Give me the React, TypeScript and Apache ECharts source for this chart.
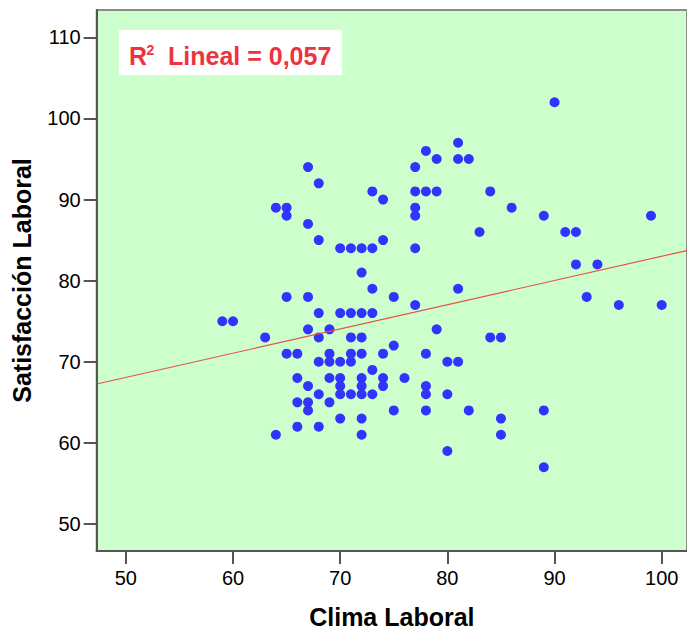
import React, { useEffect, useRef } from "react";
import * as echarts from "echarts";

// Clima Laboral (x) and Satisfacción Laboral (y), paired by index
const climaLaboral: number[] = [
  59, 60, 63,
  64, 64,
  65, 65, 65, 65,
  66, 66, 66, 66,
  67, 67, 67, 67, 67, 67, 67,
  68, 68, 68, 68, 68, 68, 68,
  69, 69, 69, 69, 69,
  70, 70, 70, 70, 70, 70, 70,
  71, 71, 71, 71, 71, 71,
  72, 72, 72, 72, 72, 72, 72, 72, 72, 72,
  73, 73, 73, 73, 73, 73,
  74, 74, 74, 74, 74,
  75, 75, 75,
  76,
  77, 77, 77, 77, 77, 77,
  78, 78, 78, 78, 78, 78,
  79, 79, 79,
  80, 80, 80,
  81, 81, 81, 81,
  82, 82,
  83,
  84, 84,
  85, 85, 85,
  86,
  89, 89, 89,
  90, 91,
  92, 92,
  93, 94, 96, 99, 100,
];
const satisfaccionLaboral: number[] = [
  75, 75, 73,
  89, 61,
  89, 88, 78, 71,
  71, 68, 65, 62,
  94, 87, 78, 74, 67, 65, 64,
  92, 85, 76, 73, 70, 66, 62,
  74, 71, 70, 68, 65,
  84, 76, 70, 68, 67, 66, 63,
  84, 76, 73, 71, 70, 66,
  84, 81, 76, 73, 71, 68, 67, 66, 63, 61,
  91, 84, 79, 76, 69, 66,
  90, 85, 71, 68, 67,
  78, 72, 64,
  68,
  94, 91, 89, 88, 84, 77,
  96, 91, 71, 67, 66, 64,
  95, 91, 74,
  70, 66, 59,
  97, 95, 79, 70,
  95, 64,
  86,
  91, 73,
  73, 63, 61,
  89,
  88, 64, 57,
  102, 86,
  86, 82,
  78, 82, 77, 88, 77,
];

// Linear fit shown in the chart
const fitIntercept = 53.13;
const fitSlope = 0.2988;

const xTicks: number[] = [50, 60, 70, 80, 90, 100];
const yTicks: number[] = [50, 60, 70, 80, 90, 100, 110];
const xTitle = "Clima Laboral";
const yTitle = "Satisfacción Laboral";
const r2Value = "0,057";

const FONT = 'Arial, "Liberation Sans", sans-serif';

export default function App() {
  const ref = useRef<HTMLDivElement>(null);

  useEffect(() => {
    if (!ref.current) return;
    const chart = echarts.init(ref.current, null, { renderer: "svg" });

    const points = climaLaboral.map((x, i) => [x, satisfaccionLaboral[i]]);

    const xMin = 47.28;
    const xMax = 102.36;
    const yMin = 46.67;
    const yMax = 113.37;

    chart.setOption({
      animation: false,
      backgroundColor: "#ffffff",
      grid: {
        left: 96.7,
        top: 10,
        width: 593,
        height: 547.3,
        show: true,
        backgroundColor: "#ccffcc",
        borderColor: "#8a8a8a",
        borderWidth: 2,
      },
      xAxis: {
        type: "value",
        min: xMin,
        max: xMax,
        name: xTitle,
        nameLocation: "middle",
        nameGap: 53,
        nameTextStyle: { fontFamily: FONT, fontSize: 25, fontWeight: "bold", color: "#000" },
        axisLine: { show: true, onZero: false, lineStyle: { color: "#555555", width: 2 } },
        axisTick: { show: true, length: 13, customValues: xTicks, lineStyle: { color: "#555555", width: 2 } },
        axisLabel: { customValues: xTicks, fontFamily: FONT, fontSize: 20, color: "#000", margin: 17 },
        splitLine: { show: false },
      },
      yAxis: {
        type: "value",
        min: yMin,
        max: yMax,
        name: yTitle,
        nameLocation: "middle",
        nameGap: 62,
        nameTextStyle: { fontFamily: FONT, fontSize: 25, fontWeight: "bold", color: "#000" },
        axisLine: { show: true, onZero: false, lineStyle: { color: "#555555", width: 2 } },
        axisTick: { show: true, length: 13, customValues: yTicks, lineStyle: { color: "#555555", width: 2 } },
        axisLabel: { customValues: yTicks, fontFamily: FONT, fontSize: 20, color: "#000", margin: 16 },
        splitLine: { show: false },
      },
      series: [
        {
          type: "scatter",
          data: points,
          symbol: "circle",
          symbolSize: 10,
          itemStyle: { color: "#3333ff", opacity: 1 },
          z: 2,
        },
        {
          type: "line",
          data: [
            [xMin, fitIntercept + fitSlope * xMin],
            [xMax, fitIntercept + fitSlope * xMax],
          ],
          symbol: "none",
          lineStyle: { color: "#e8504a", width: 1.2 },
          z: 3,
        },
      ],
      graphic: [
        {
          type: "group",
          left: 119,
          top: 30,
          children: [
            { type: "rect", shape: { x: 0, y: 0, width: 223, height: 45 }, style: { fill: "#ffffff" } },
            {
              type: "text",
              x: 10,
              y: 25.5,
              style: { text: "R", font: `bold 25px ${FONT}`, fill: "#ee3340", verticalAlign: "middle" },
            },
            {
              type: "text",
              x: 27.5,
              y: 20,
              style: { text: "2", font: `bold 14px ${FONT}`, fill: "#ee3340", verticalAlign: "middle" },
            },
            {
              type: "text",
              x: 49,
              y: 25.5,
              style: { text: `Lineal = ${r2Value}`, font: `bold 25px ${FONT}`, fill: "#ee3340", verticalAlign: "middle" },
            },
          ],
        },
      ],
    });

    return () => chart.dispose();
  }, []);

  return (
    <div
      ref={ref}
      style={{ position: "fixed", left: 0, top: 0, width: 687, height: 634, background: "#fff" }}
    />
  );
}
